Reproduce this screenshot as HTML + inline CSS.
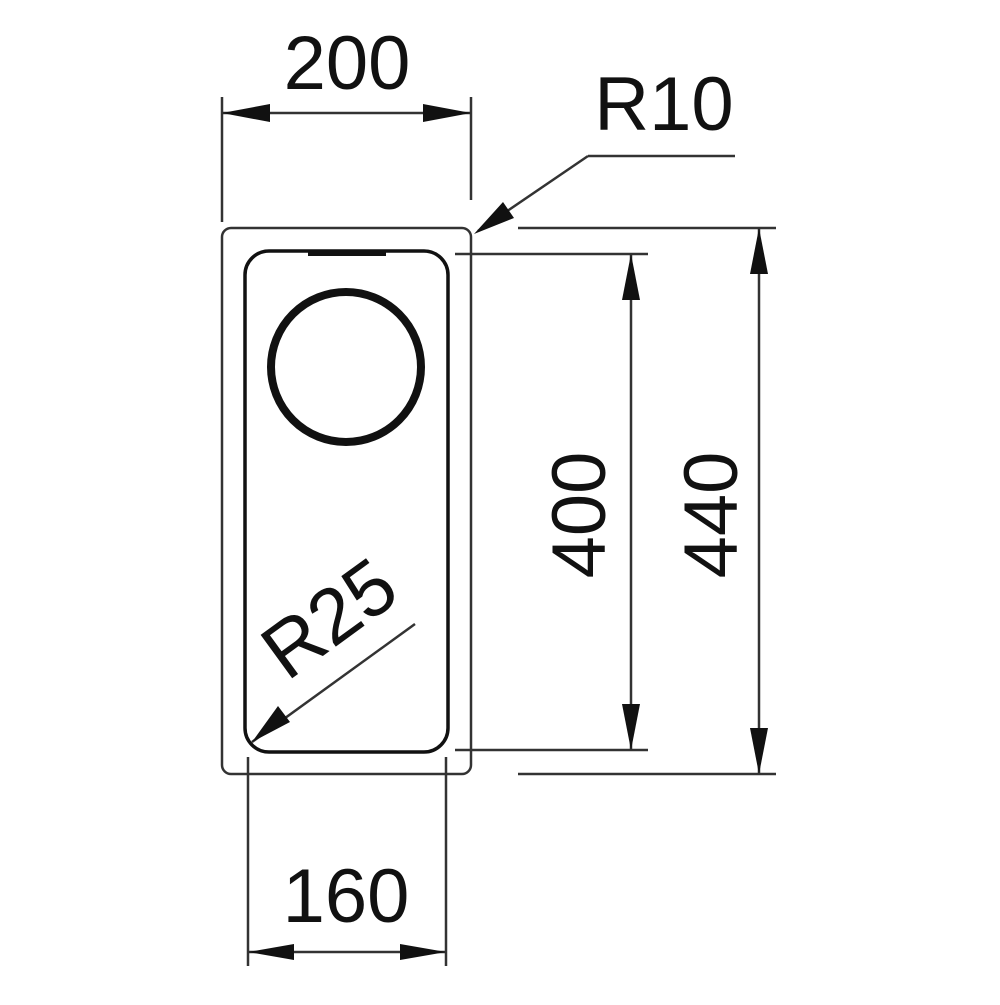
<!DOCTYPE html>
<html><head><style>html,body{margin:0;padding:0;background:#fff}</style></head>
<body>
<svg width="1000" height="1000" viewBox="0 0 1000 1000" xmlns="http://www.w3.org/2000/svg">
<g fill="none" stroke="#333" stroke-width="2.5">
  <rect x="222" y="228" width="249" height="546" rx="9"/>
  <rect x="245" y="251" width="203" height="501" rx="24" stroke="#111" stroke-width="3.5"/>
  <line x1="308" y1="254" x2="386" y2="254" stroke="#111" stroke-width="4"/>
  <circle cx="346" cy="367" r="75" stroke="#111" stroke-width="8"/>
  <!-- 200 -->
  <line x1="222" y1="97" x2="222" y2="222"/>
  <line x1="471" y1="97" x2="471" y2="200"/>
  <line x1="222" y1="113" x2="471" y2="113"/>
  <!-- R10 -->
  <line x1="588" y1="156" x2="735" y2="156"/>
  <line x1="588" y1="156" x2="478" y2="231"/>
  <!-- 400 / 440 ext -->
  <line x1="455" y1="254" x2="648" y2="254"/>
  <line x1="455" y1="750" x2="648" y2="750"/>
  <line x1="518" y1="228" x2="776" y2="228"/>
  <line x1="518" y1="774" x2="776" y2="774"/>
  <line x1="631" y1="254" x2="631" y2="750"/>
  <line x1="759" y1="228" x2="759" y2="774"/>
  <!-- 160 -->
  <line x1="248" y1="757" x2="248" y2="966"/>
  <line x1="446" y1="757" x2="446" y2="966"/>
  <line x1="248" y1="952" x2="446" y2="952"/>
  <!-- R25 -->
  <line x1="415" y1="624" x2="252" y2="742"/>
</g>
<g fill="#111">
  <polygon points="222,113 270,104 270,122"/>
  <polygon points="471,113 423,104 423,122"/>
  <polygon points="248,952 294,944 294,960"/>
  <polygon points="446,952 400,944 400,960"/>
  <polygon points="631,254 622,300 640,300"/>
  <polygon points="631,750 622,704 640,704"/>
  <polygon points="759,228 750,274 768,274"/>
  <polygon points="759,774 750,728 768,728"/>
  <polygon points="474,234 503,202 514,218"/>
  <polygon points="252,742 278,706 290,722"/>
</g>
<g font-family="Liberation Sans, sans-serif" font-size="76" fill="#111">
  <text x="347" y="89" text-anchor="middle">200</text>
  <text x="664" y="130" text-anchor="middle">R10</text>
  <text x="346" y="922" text-anchor="middle">160</text>
  <text transform="translate(605,515) rotate(-90)" text-anchor="middle">400</text>
  <text transform="translate(737,515) rotate(-90)" text-anchor="middle">440</text>
  <text transform="translate(287,682) rotate(-36)" font-size="78">R25</text>
</g>
</svg>
</body></html>
